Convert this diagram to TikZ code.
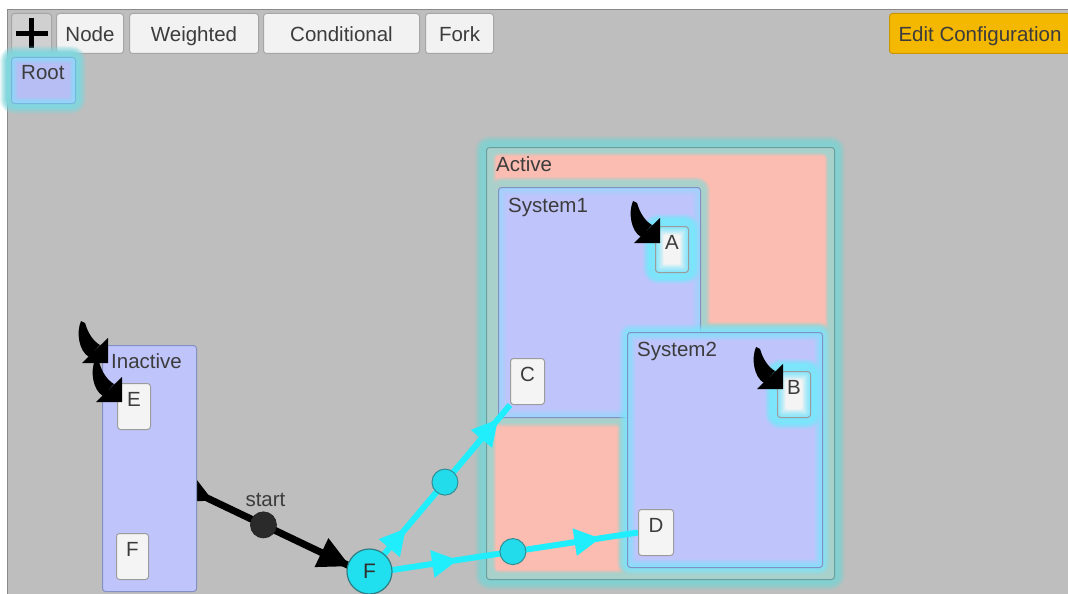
\documentclass[tikz,border=0pt]{standalone}
\usepackage{fontspec}
\setmainfont{Liberation Sans}
\usetikzlibrary{arrows.meta,calc}

\definecolor{canvas}{HTML}{BEBEBE}
\definecolor{frameline}{HTML}{8A8A8A}
\definecolor{btnfill}{HTML}{F2F2F2}
\definecolor{btnline}{HTML}{A6A6A6}
\definecolor{plusfill}{HTML}{D0D0D0}
\definecolor{editfill}{HTML}{F5B800}
\definecolor{editline}{HTML}{C99600}
\definecolor{lavender}{HTML}{BFC5FB}
\definecolor{boxline}{HTML}{8490C4}
\definecolor{activeline}{HTML}{6A9E9E}
\definecolor{salmon}{HTML}{FBBDB1}
\definecolor{tealglow}{HTML}{84D0D0}
\definecolor{tealgray}{HTML}{A9D1CB}
\definecolor{cyanglow}{HTML}{7CE4FB}
\definecolor{rootfill}{HTML}{B6BEF4}
\definecolor{rootline}{HTML}{78B4DC}
\definecolor{statefill}{HTML}{F4F4F4}
\definecolor{stateline}{HTML}{9C9C9C}
\definecolor{wirecyan}{HTML}{20EEFC}
\definecolor{dotfill}{HTML}{22DCEC}
\definecolor{dotline}{HTML}{2E8E94}
\definecolor{fcfill}{HTML}{20DFEE}
\definecolor{fcline}{HTML}{2E7E84}
\definecolor{blackdot}{HTML}{2A2A2A}
\definecolor{ink}{HTML}{3C3C3C}

\pgfdeclarelayer{back}
\pgfdeclarelayer{edges}
\pgfsetlayers{back,edges,main}

% soft halo outside a rectangle: colour, rings, strength, x1, y1, x2, y2
\newcommand\glowout[7]{%
  \foreach \k in {1,...,#2}{%
    \pgfmathsetmacro\gop{min(1,#3*(1-(\k-1)/#2))}%
    \pgfmathsetmacro\grc{\k+3}%
    \draw[#1,line width=1.2pt,opacity=\gop,rounded corners=\grc pt]
      (#4-\k+0.5,#5-\k+0.5) rectangle (#6+\k-0.5,#7+\k-0.5);}}

\tikzset{
  innerglow/.style n args={3}{path picture={%
    \foreach \k in {1,...,#2}{%
      \pgfmathsetmacro\gop{min(1,#3*(1-(\k-1)/#2))}%
      \draw[#1,line width=1.2pt,opacity=\gop]
        ($(path picture bounding box.north west)+(\k-0.5,\k-0.5)$) rectangle
        ($(path picture bounding box.south east)+(-\k+0.5,-\k+0.5)$);}}},
  entrymark/.pic={
    \fill (0,0) -- (0,-25) -- (-26,0) -- cycle;
    \fill (-27,-42) .. controls (-32,-30) and (-29,-12) .. (-19,-6)
      -- (-8,-18) .. controls (-15,-22) and (-20,-30) .. (-23,-40) -- cycle;
  }
}

\begin{document}
\begin{tikzpicture}[x=1pt,y=-1pt,
  lbl/.style={text=ink,font=\fontsize{20.5}{24}\selectfont,inner sep=0pt},
  btn/.style={draw=btnline,fill=btnfill,line width=1pt,rounded corners=3pt,
    inner sep=0pt,text height=28pt,text depth=12pt,anchor=north west,
    text=ink,font=\fontsize{20.5}{24}\selectfont},
  cont/.style={fill=lavender,draw=boxline,line width=1pt,rounded corners=3pt,
    inner sep=0pt,anchor=north west},
  statebox/.style={fill=statefill,draw=stateline,line width=1pt,rounded corners=3pt,
    inner xsep=0pt,inner ysep=0pt,minimum width=33pt,text height=23pt,text depth=23pt,
    anchor=north west,text=ink,font=\fontsize{20.5}{24}\selectfont},
  midblack/.style={circle,fill=blackdot,draw=black!85,line width=0.8pt,minimum size=26pt,inner sep=0pt},
  midcyan/.style={circle,fill=dotfill,draw=dotline,line width=1pt,minimum size=26pt,inner sep=0pt},
  blackedge/.style={draw=black,line width=7pt},
  blackhead/.style={draw=black,line width=7pt,-{Triangle[length=32pt,width=30pt]}},
  cyanedge/.style={draw=wirecyan,line width=6pt},
  cyanhead/.style={draw=wirecyan,line width=6pt,-{Triangle[length=26pt,width=26pt]}}
]
\useasboundingbox (0,0) rectangle (1068,594);

\begin{pgfonlayer}{back}
  % window
  \fill[white] (0,0) rectangle (1068,594);
  \fill[canvas] (7.5,9.5) rectangle (1068,594);
  \draw[frameline,line width=1pt] (7.5,594) -- (7.5,9.5) -- (1068,9.5);

  % toolbar
  \node[btn,fill=plusfill,minimum width=40pt,text height=20pt,text depth=20pt] (plusbtn) at (11,13) {};
  \draw[black,line width=4.5pt] ($(plusbtn.center)+(-16,0)$) -- ($(plusbtn.center)+(16,0)$);
  \draw[black,line width=4.5pt] ($(plusbtn.center)+(0,-15)$) -- ($(plusbtn.center)+(0,15)$);
  \node[btn,minimum width=67pt] (nodebtn) at (56,13) {Node};
  \node[btn,minimum width=129pt] (weightedbtn) at (129,13) {Weighted};
  \node[btn,minimum width=156pt] (conditionalbtn) at (263,13) {Conditional};
  \node[btn,minimum width=68pt] (forkbtn) at (425,13) {Fork};
  \node[btn,fill=editfill,draw=editline,minimum width=181pt] (editbtn) at (889,13) {Edit Configuration};

  % root state
  \glowout{tealglow!70!cyanglow}{11}{1.5}{11}{57}{75}{103}
  \node[cont,fill=rootfill,draw=rootline,minimum width=64pt,minimum height=46pt,
    innerglow={cyanglow}{6}{0.7}] (root) at (11,57) {};
  \node[lbl,anchor=base west] (rootlabel) at (21,80) {Root};

  % active state machine
  \glowout{tealglow}{11}{1.6}{486}{147}{834}{579}
  \node[cont,fill=tealgray,draw=activeline,minimum width=348pt,minimum height=432pt] (active) at (486,147) {};
  \glowout{salmon}{3}{0.7}{496}{156}{825}{570}
  \fill[salmon] (496,156) rectangle (825,570);
  \node[lbl,anchor=base west] (activelabel) at (496,171) {Active};

  \glowout{tealgray}{10}{2}{498}{187}{700}{417}
  \glowout{tealgray}{10}{2}{627}{332}{822}{567}

  \node[cont,minimum width=202pt,minimum height=230pt,innerglow={cyanglow}{8}{0.45}] (system1) at (498,187) {};
  \node[lbl,anchor=base west] (system1label) at (508,212) {System1};

  \glowout{cyanglow}{8}{0.9}{627}{332}{822}{567}
  \node[cont,minimum width=195pt,minimum height=235pt,innerglow={cyanglow}{8}{0.9}] (system2) at (627,332) {};
  \node[lbl,anchor=base west] (system2label) at (637,356) {System2};

  \glowout{cyanglow}{12}{2}{655}{226}{688}{272}
  \node[statebox,innerglow={cyanglow}{8}{1}] (A) at (655,226) {A};
  \glowout{cyanglow}{12}{2}{777}{371}{810}{417}
  \node[statebox,innerglow={cyanglow}{8}{1}] (B) at (777,371) {B};
\end{pgfonlayer}

% inactive state machine
\node[cont,minimum width=94pt,minimum height=246pt] (inactive) at (102,345) {};
\node[lbl,anchor=base west] (inactivelabel) at (111,368) {Inactive};
\node[statebox] (E) at (117,383) {E};
\node[statebox,minimum width=32pt] (inactiveF) at (116,533) {F};

% states reached by transitions
\node[statebox,minimum width=34pt] (C) at (510,358) {C};
\node[statebox,minimum width=35pt] (D) at (638,509) {D};
\node[circle,fill=fcfill,draw=fcline,line width=1.2pt,minimum size=45pt,inner sep=0pt,
  text=ink!80!black,font=\fontsize{21}{24}\selectfont] (Fcirc) at (369.5,571.5) {F};

\begin{pgfonlayer}{edges}
  % Inactive -> F
  \coordinate (bs) at ($(inactive.center)+(0,2)$);
  \coordinate (be) at ($(Fcirc.center)+(0,4)$);
  \draw[blackedge] (bs) -- node[midblack,pos=0.518] (startdot) {} (be);
  \draw[blackhead] ($(bs)!0.24!(be)$) -- ($(bs)!0.29!(be)$);
  \draw[blackhead] ($(bs)!0.86!(be)$) -- ($(bs)!0.913!(be)$);
  \node[lbl,anchor=base] (startlabel) at ($(startdot.center)+(2,-18)$) {start};
  % F -> C
  \draw[cyanedge] (Fcirc.center) -- node[midcyan,pos=0.537] (dotFC) {} (C.south west);
  \draw[cyanhead] ($(Fcirc.center)!0.20!(C.south west)$) -- ($(Fcirc.center)!0.26!(C.south west)$);
  \draw[cyanhead] ($(Fcirc.center)!0.86!(C.south west)$) -- ($(Fcirc.center)!0.916!(C.south west)$);
  % F -> D
  \coordinate (ds) at ($(Fcirc.center)+(0,2)$);
  \draw[cyanedge] (ds) -- node[midcyan,pos=0.534] (dotFD) {} (D.west);
  \draw[cyanhead] ($(ds)!0.28!(D.west)$) -- ($(ds)!0.33!(D.west)$);
  \draw[cyanhead] ($(ds)!0.81!(D.west)$) -- ($(ds)!0.86!(D.west)$);
\end{pgfonlayer}

% default-state markers
\pic[black] at (108,363) {entrymark};
\pic[black] at (122,402) {entrymark};
\pic[black] at (660,243) {entrymark};
\pic[black] at (783,389) {entrymark};
\end{tikzpicture}
\end{document}
